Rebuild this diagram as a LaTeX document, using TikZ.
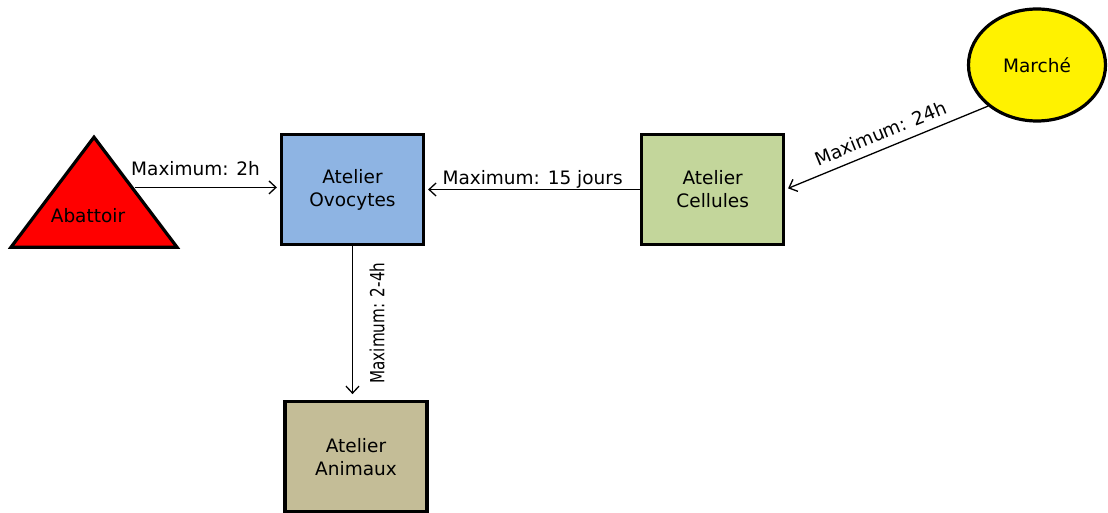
\documentclass[tikz,border=0pt]{standalone}
\usepackage{fontspec}
\setmainfont{DejaVu Sans}
\newfontfamily\narrowfont{DejaVu Sans}[FakeStretch=0.78]
\usetikzlibrary{shapes.geometric, arrows.meta, positioning, calc}
\definecolor{ovoblue}{HTML}{8EB4E3}
\definecolor{celgreen}{HTML}{C3D69B}
\definecolor{anitan}{HTML}{C4BD97}

\begin{document}
\begin{tikzpicture}[
    x=1pt, y=-1pt,
    every node/.style={font=\fontsize{18.5}{23}\selectfont},
    atelier/.style={rectangle, draw, line width=3.2pt, minimum width=142pt, minimum height=110pt, align=center},
    source/.style={draw, line width=3.2pt, inner sep=0pt},
    arrow/.style={-{Straight Barb[length=7pt, width=13pt]}, line width=1.3pt, shorten >=3pt},
    delay/.style={inner sep=1pt}
]
    \useasboundingbox (0,0) rectangle (1108,513);

    \node[atelier, fill=ovoblue] (ovo) at (352.5,189.5) {Atelier\\Ovocytes};
    \node[atelier, fill=celgreen, right=215pt of ovo] (cel) {Atelier\\Cellules};
    \node[atelier, fill=anitan, below=154pt of ovo, xshift=3.5pt] (ani) {Atelier\\Animaux};

    \node[source, ellipse, fill=yellow, minimum width=137pt, minimum height=112pt] (mar) at (1037,65) {Marché};
    \node[source, isosceles triangle, shape border rotate=90, isosceles triangle stretches,
          minimum width=166pt, minimum height=110pt, fill=red, anchor=apex] (abat) at (94,133)
          {\raisebox{5pt}[0pt][0pt]{Abattoir\hspace*{12pt}}};

    \coordinate (abatout) at ($(abat.apex)!0.47!(abat.right corner)$);

    \draw[arrow] (abatout) -- (abatout -| ovo.west)
        node[delay, pos=0.42, above, inner sep=11pt] {Maximum: 2h};
    \draw[arrow] (cel.west) -- (ovo.east)
        node[delay, midway, above] {Maximum: 15 jours};
    \draw[arrow] (mar.220) -- (cel.east)
        node[delay, midway, above, sloped, inner sep=8pt] {Maximum: 24h};
    \draw[arrow, shorten >=6pt] (ovo.south) -- (ovo.south |- ani.north)
        node[midway, rotate=90, anchor=north, inner sep=0pt, outer sep=17pt,
             font=\narrowfont\fontsize{19.5}{23}\selectfont] {Maximum: 2-4h};
\end{tikzpicture}
\end{document}
